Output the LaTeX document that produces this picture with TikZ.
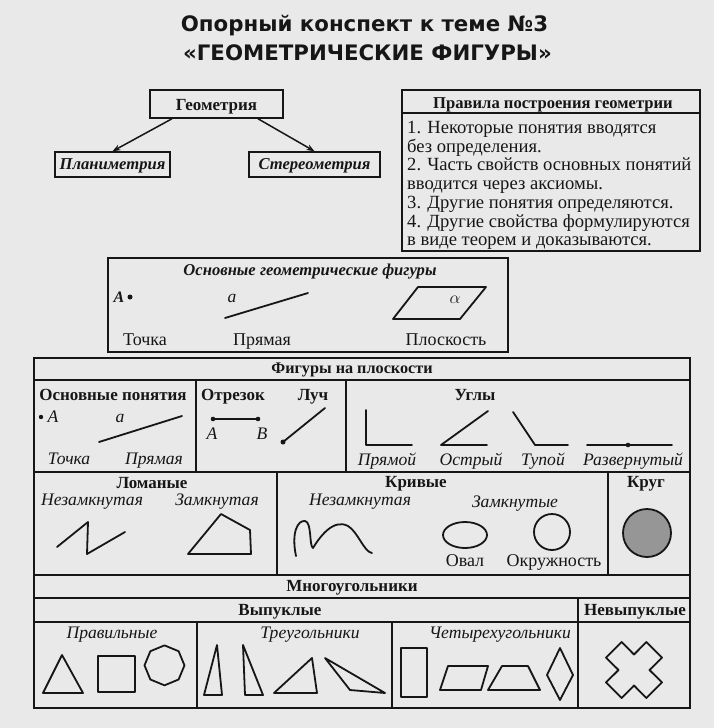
\documentclass[tikz,border=0pt]{standalone}
\usepackage{fontspec}
\setmainfont{Liberation Serif}
\newfontfamily\ttlfont{DejaVu Sans}
\usetikzlibrary{arrows.meta}
\definecolor{bg}{RGB}{233,233,233}
\definecolor{ink}{RGB}{22,22,22}
\definecolor{disk}{RGB}{150,150,150}
\newcommand\myfs[1]{\fontsize{#1}{#1}\selectfont}
\begin{document}
\begin{tikzpicture}[x=1pt,y=-1pt,
  bx/.style={draw=ink, line width=1.5pt, inner sep=0pt},
  bxl/.style={draw=ink, line width=1.5pt},
  fg/.style={draw=ink, line width=1.8pt, line join=round, line cap=round},
  arr/.style={draw=ink, line width=1.5pt, -{Stealth[length=8pt,width=6pt]}},
  t/.style={inner sep=0pt, anchor=base, text=ink},
  tw/.style={inner sep=0pt, anchor=base west, text=ink, font={\myfs{18.6}}},
  rb/.style={font={\bfseries\myfs{17}}},
  ri/.style={font={\itshape\myfs{17.6}}},
  rr/.style={font={\myfs{18}}},
  rbi/.style={font={\bfseries\itshape\myfs{16.6}}},
  dot/.style={fill=ink, draw=none}
]
\fill[bg] (0,0) rectangle (714,728);
\useasboundingbox (0,0) rectangle (714,728);

% title
\node[t, font={\ttlfont\bfseries\myfs{21.3}}] (title1) at (364.5,31) {Опорный конспект к теме №3};
\node[t, font={\ttlfont\bfseries\myfs{21.3}}] (title2) at (367.5,60) {«ГЕОМЕТРИЧЕСКИЕ ФИГУРЫ»};

% geometry tree
\node[bx, minimum width=133pt, minimum height=28pt] (geo) at (216.5,104) {};
\node[t, rb] (geoT) at (216.5,110) {Геометрия};
\node[bx, minimum width=115pt, minimum height=25pt] (plan) at (112.5,164.5) {};
\node[t, rbi] (planT) at (112.5,169) {Планиметрия};
\node[bx, minimum width=131pt, minimum height=25pt] (ster) at (314.5,164.5) {};
\node[t, rbi] (sterT) at (314.5,169) {Стереометрия};
\draw[arr] ([xshift=-44.5pt]geo.south) -- (plan.north);
\draw[arr] ([xshift=41.5pt]geo.south) -- (ster.north);

% rules box
\node[bx, minimum width=298pt, minimum height=161pt] (rules) at (551,170.5) {};
\draw[bxl] (402,113) -- (700,113);
\node[t, font={\bfseries\myfs{16.6}}] (rulesT) at (553,108) {Правила построения геометрии};
\node[tw] (r1) at (407,133.5) {1. Некоторые понятия вводятся};
\node[tw] (r2) at (407,152.2) {без определения.};
\node[tw] (r3) at (407,170.9) {2. Часть свойств основных понятий};
\node[tw] (r4) at (407,189.6) {вводится через аксиомы.};
\node[tw] (r5) at (407,208.3) {3. Другие понятия определяются.};
\node[tw] (r6) at (407,227) {4. Другие свойства формулируются};
\node[tw] (r7) at (407,245.7) {в виде теорем и доказываются.};

% basic figures box
\node[bx, minimum width=400pt, minimum height=94pt] (ogf) at (308,305) {};
\node[t, rbi] (ogfT) at (310,275) {Основные геометрические фигуры};
\node[t, font={\bfseries\itshape\myfs{16}}] (ogfA) at (119,302) {A};
\fill[dot] (130,297) circle (2.5pt);
\draw[fg] (225,318) -- (308,293);
\node[t, font={\itshape\myfs{17.5}}] (ogfa) at (232,302) {a};
\draw[fg] (393,319) -- (460,319) -- (486,287) -- (418,287) -- cycle;
\node[t, font={\myfs{18}}] (ogfal) at (455,303) {$\alpha$};
\node[t, rr] (ogf1) at (145,345) {Точка};
\node[t, rr] (ogf2) at (262,345) {Прямая};
\node[t, rr] (ogf3) at (446,345) {Плоскость};

% main table
\node[bx, minimum width=656pt, minimum height=350pt] (tbl) at (362,533) {};
\draw[bxl] (34,380) -- (690,380);
\draw[bxl] (34,472) -- (690,472);
\draw[bxl] (196,380) -- (196,472);
\draw[bxl] (346,380) -- (346,472);
\draw[bxl] (34,575) -- (690,575);
\draw[bxl] (277,472) -- (277,575);
\draw[bxl] (608,472) -- (608,575);
\draw[bxl] (34,598) -- (690,598);
\draw[bxl] (34,622) -- (690,622);
\draw[bxl] (578,598) -- (578,708);
\draw[bxl] (197,622) -- (197,708);
\draw[bxl] (392,622) -- (392,708);

\node[t, font={\bfseries\myfs{16.2}}] (h0) at (352,373) {Фигуры на плоскости};

% row 2
\node[t, rb] (h1) at (113,400) {Основные понятия};
\fill[dot] (41,417) circle (2.2pt);
\node[t, ri] (pA) at (53,422) {A};
\draw[fg] (99,442) -- (182,416);
\node[t, ri] (pa) at (120,422) {a};
\node[t, ri] (p1) at (69,464) {Точка};
\node[t, ri] (p2) at (154,464) {Прямая};

\node[t, rb] (h2) at (233,400) {Отрезок};
\node[t, rb] (h3) at (313,400) {Луч};
\draw[fg, line width=1.5pt] (213,419) -- (258,419);
\fill[dot] (213,419) circle (2.3pt);
\fill[dot] (258,419) circle (2.3pt);
\node[t, ri] (sA) at (212,439) {A};
\node[t, ri] (sB) at (262,439) {B};
\draw[fg] (283,442) -- (325,408);
\fill[dot] (283,442) circle (2.5pt);

\node[t, rb] (h4) at (475,400) {Углы};
\draw[fg] (366,410) -- (366,445) -- (412,445);
\draw[fg] (488,411) -- (441,445) -- (487,445);
\draw[fg] (513,412) -- (535,445) -- (568,445);
\draw[fg] (587,445) -- (672,445);
\fill[dot] (628,445) circle (2.3pt);
\node[t, ri] (u1) at (387,465) {Прямой};
\node[t, ri] (u2) at (471,465) {Острый};
\node[t, ri] (u3) at (543,465) {Тупой};
\node[t, ri] (u4) at (633,465) {Развернутый};

% row 3
\node[t, rb] (h5) at (152,488) {Ломаные};
\node[t, ri] (l1) at (92,505) {Незамкнутая};
\node[t, ri] (l2) at (217,505) {Замкнутая};
\draw[fg] (57,547) -- (88,522) -- (87,554) -- (125,532);
\draw[fg] (188,554) -- (221,514) -- (250,530) -- (251,554) -- cycle;

\node[t, rb] (h6) at (416,487) {Кривые};
\node[t, ri] (k1) at (360,505) {Незамкнутая};
\node[t, ri] (k2) at (515,507) {Замкнутые};
\draw[fg] (296,556) .. controls (291,532) and (298,520) .. (305,521)
  .. controls (312,522) and (309,546) .. (313,548)
  .. controls (319,538) and (333,518) .. (348,526)
  .. controls (358,532) and (364,552) .. (372,553);
\draw[fg] (465,535) ellipse [x radius=22pt, y radius=13pt];
\draw[fg] (552,532) circle (18pt);
\node[t, rr] (k3) at (465,566) {Овал};
\node[t, rr] (k4) at (554,566) {Окружность};

\node[t, rb] (h7) at (646,487) {Круг};
\draw[fg, fill=disk] (647,533) circle (24pt);

% polygons
\node[t, rb] (h8) at (352,591) {Многоугольники};
\node[t, rb] (h9) at (280,615) {Выпуклые};
\node[t, rb] (h10) at (635,615) {Невыпуклые};
\node[t, ri] (m1) at (112,638) {Правильные};
\node[t, ri] (m2) at (310,638) {Треугольники};
\node[t, ri] (m3) at (500,638) {Четырехугольники};

\draw[fg] (43,693) -- (83,693) -- (62,655) -- cycle;
\draw[fg] (98,656) rectangle (135,692);
\draw[fg] (166,673) ++(22.5:20pt) -- ++(112.5:15.3pt) -- ++(157.5:15.3pt) -- ++(202.5:15.3pt)
  -- ++(247.5:15.3pt) -- ++(292.5:15.3pt) -- ++(337.5:15.3pt) -- ++(22.5:15.3pt) -- cycle;

\draw[fg] (204,695) -- (222,695) -- (217,645) -- cycle;
\draw[fg] (243,645) -- (245,695) -- (263,695) -- cycle;
\draw[fg] (274,693) -- (312,658) -- (317,693) -- cycle;
\draw[fg] (325,658) -- (350,690) -- (385,693) -- cycle;

\draw[fg] (401,648) rectangle (427,697);
\draw[fg] (440,690) -- (481,690) -- (488,666) -- (448,666) -- cycle;
\draw[fg] (488,690) -- (540,690) -- (528,666) -- (502,666) -- cycle;
\draw[fg] (560,648) -- (573,675) -- (560,700) -- (547,675) -- cycle;

\draw[fg, shift={(634,670)}] (0,-15.5) -- (12.4,-28) -- (28,-12.4) -- (15.5,0) -- (28,12.4)
  -- (12.4,28) -- (0,15.5) -- (-12.4,28) -- (-28,12.4) -- (-15.5,0) -- (-28,-12.4)
  -- (-12.4,-28) -- cycle;
\end{tikzpicture}
\end{document}
